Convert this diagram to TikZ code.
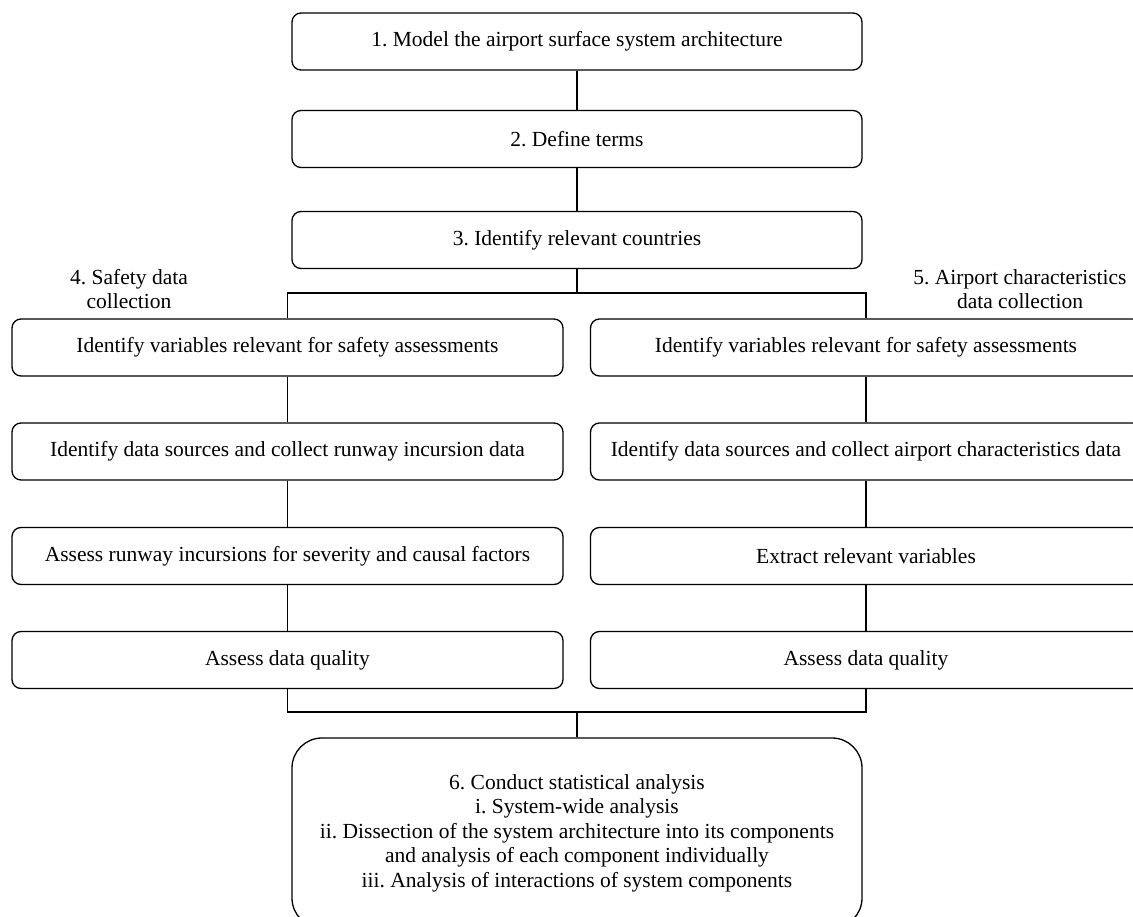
\documentclass[tikz,border=0pt]{standalone}
\usepackage{fontspec}
\setmainfont{Liberation Serif}
\frenchspacing
\begin{document}
\begin{tikzpicture}[x=1pt,y=-1pt,
  every node/.style={font=\fontsize{21.5}{24.5}\selectfont},
  boxa/.style={draw, line width=1.3pt, rounded corners=9pt, inner sep=0pt, minimum height=57pt},
  topbox/.style={boxa, minimum width=570pt},
  colbox/.style={boxa, minimum width=551pt},
  bigbox/.style={draw, line width=1.3pt, rounded corners=30pt, inner sep=0pt, minimum width=570pt, minimum height=190pt, align=center},
  lab/.style={align=center, inner sep=0pt},
  conn/.style={line width=1.3pt}]
\useasboundingbox (0,0) rectangle (1133,917);
\clip (0,0) rectangle (1133,917);

\node[topbox] (b1) at (577,41.5) {1. Model the airport surface system architecture};
\node[topbox] (b2) at (577,139) {2. Define terms};
\node[topbox] (b3) at (577,240) {3. Identify relevant countries};

\node[lab] (lab4) at (129,289) {4. Safety data\\collection};
\node[lab] (lab5) at (1020,289) {5. Airport characteristics\\data collection};

\node[colbox] (l1) at (287.5,347.5) {Identify variables relevant for safety assessments};
\node[colbox] (l2) at (287.5,451.5) {Identify data sources and collect runway incursion data};
\node[colbox] (l3) at (287.5,556) {Assess runway incursions for severity and causal factors};
\node[colbox] (l4) at (287.5,660) {Assess data quality};

\node[colbox] (r1) at (866,347.5) {Identify variables relevant for safety assessments};
\node[colbox] (r2) at (866,451.5) {Identify data sources and collect airport characteristics data};
\node[colbox] (r3) at (866,556) {Extract relevant variables};
\node[colbox] (r4) at (866,660) {Assess data quality};

\node[bigbox] (b6) at (577,833) {6. Conduct statistical analysis\\
i. System-wide analysis\\
ii. Dissection of the system architecture into its components\\
and analysis of each component individually\\
iii. Analysis of interactions of system components};

\coordinate (j1) at (577,293);
\coordinate (j2) at (577,712);

\draw[conn] (b1) -- (b2);
\draw[conn] (b2) -- (b3);
\draw[conn] (b3.south) -- (j1);
\draw[conn] (l1.north) |- (j1) -| (r1.north);
\draw[conn] (l1) -- (l2);
\draw[conn] (l2) -- (l3);
\draw[conn] (l3) -- (l4);
\draw[conn] (r1) -- (r2);
\draw[conn] (r2) -- (r3);
\draw[conn] (r3) -- (r4);
\draw[conn] (l4.south) |- (j2) -| (r4.south);
\draw[conn] (j2) -- (b6.north);
\end{tikzpicture}
\end{document}
